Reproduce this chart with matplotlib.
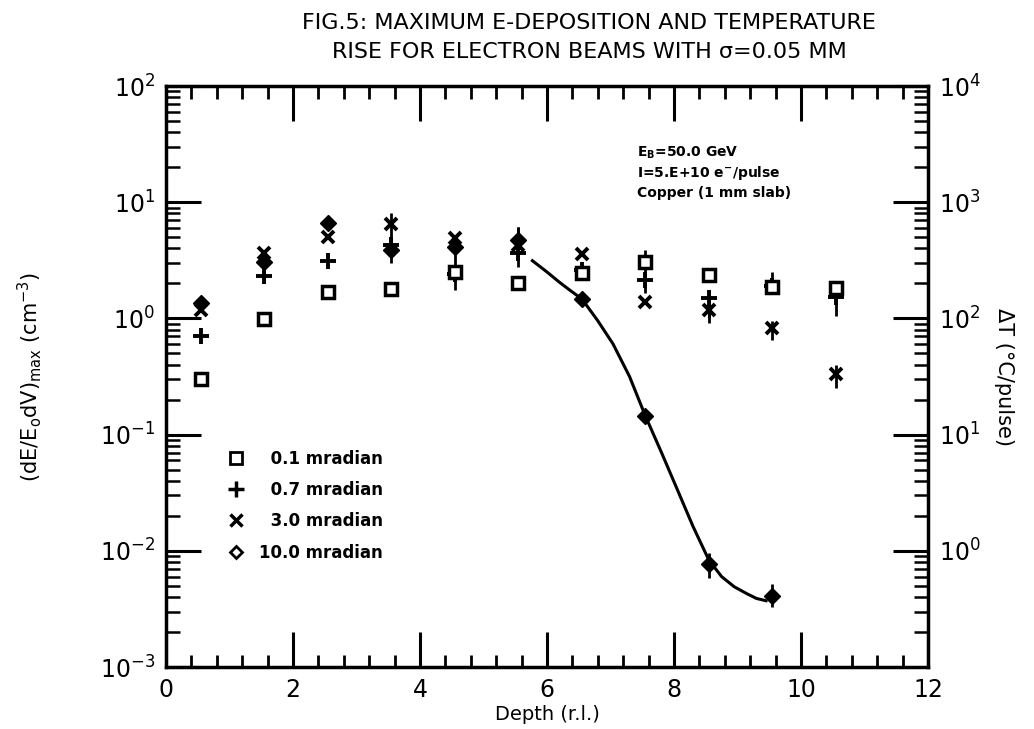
import numpy as np
import matplotlib
matplotlib.use('Agg')
import matplotlib.pyplot as plt
from matplotlib.ticker import LogLocator, MultipleLocator, NullFormatter, FixedLocator
from matplotlib.lines import Line2D

# depth of each slab (r.l.)
depth = [0.55, 1.55, 2.55, 3.55, 4.55, 5.55, 6.55, 7.55, 8.55, 9.55, 10.55]

# 0.1 mradian (squares)
sq_vals = [0.30, 0.99, 1.70, 1.78, 2.52, 2.00, 2.47, 3.08, 2.36, 1.87, 1.82]
# 0.7 mradian (plus) with error bar ends
plus_vals = [0.70, 2.33, 3.14, 4.28, 2.40, 3.63, 2.60, 2.14, 1.49, 1.90, 1.54]
plus_lo = [0.70, 2.10, 3.14, 3.00, 1.75, 2.79, 2.60, 1.64, 0.91, 1.90, 1.04]
plus_hi = [0.70, 2.60, 3.14, 8.10, 4.50, 6.08, 2.60, 3.88, 1.75, 2.52, 1.90]
# 3.0 mradian (x)
x_vals = [1.18, 3.68, 4.99, 6.49, 4.89, 4.30, 3.60, 1.39, 1.18, 0.82, 0.33]
x_lo = [1.18, 3.68, 4.99, 6.49, 4.89, 4.30, 3.60, 1.39, 1.00, 0.65, 0.25]
x_hi = [1.18, 3.68, 4.99, 6.49, 4.89, 4.30, 3.60, 1.39, 1.18, 0.95, 0.40]
# 10.0 mradian (diamonds), no point at the last depth
dia_depth = depth[:10]
dia_vals = [1.36, 3.07, 6.66, 3.88, 4.14, 4.73, 1.47, 0.144, 0.0077, 0.0041]
dia_lo = [1.36, 3.07, 6.66, 3.88, 4.14, 4.73, 1.47, 0.144, 0.0058, 0.0033]
dia_hi = [1.36, 3.07, 6.66, 3.88, 4.14, 6.10, 1.47, 0.144, 0.0095, 0.0052]

# hand drawn curve through the 10 mradian points
curve_x = [5.77, 6.00, 6.20, 6.36, 6.55, 6.80, 7.04, 7.30, 7.55, 7.80, 8.05,
           8.30, 8.55, 8.75, 8.95, 9.15, 9.30, 9.45]
curve_y = [3.14, 2.51, 2.04, 1.75, 1.47, 0.955, 0.603, 0.316, 0.1445, 0.0708,
           0.0339, 0.0162, 0.0083, 0.0060, 0.0049, 0.00427, 0.00389, 0.00372]

legend_labels = ['\u20070.1 mradian', '\u20070.7 mradian', '\u20073.0 mradian', '10.0 mradian']


def errs(vals, lo, hi):
    v = np.array(vals)
    return [v - np.array(lo), np.array(hi) - v]


fig = plt.figure(figsize=(10.34, 7.29), dpi=100)
ax = fig.add_axes([0.1605, 0.085, 0.737, 0.797])

ax.plot(curve_x, curve_y, color='black', lw=2.2)

ax.errorbar(depth, sq_vals, fmt='s', ms=8, mfc='white', mec='black', mew=2.5,
            ecolor='black', elinewidth=2, capsize=0)
ax.errorbar(depth, plus_vals, yerr=errs(plus_vals, plus_lo, plus_hi), fmt='none',
            ecolor='black', elinewidth=2, capsize=0)
ax.plot(depth, plus_vals, '+', ms=11, mew=2.8, color='black')
ax.errorbar(depth, x_vals, yerr=errs(x_vals, x_lo, x_hi), fmt='x', ms=9, mew=2.8,
            color='black', ecolor='black', elinewidth=2, capsize=0)
ax.errorbar(dia_depth, dia_vals, yerr=errs(dia_vals, dia_lo, dia_hi), fmt='D', ms=8,
            color='black', ecolor='black', elinewidth=2, capsize=0)

ax.set_yscale('log')
ax.set_xlim(0, 12)
ax.set_ylim(1e-3, 1e2)

ax.xaxis.set_major_locator(MultipleLocator(2))
ax.xaxis.set_minor_locator(MultipleLocator(0.4))
ax.yaxis.set_major_locator(LogLocator(base=10))
ax.yaxis.set_minor_locator(LogLocator(base=10, subs=np.arange(2, 10)))
ax.yaxis.set_minor_formatter(NullFormatter())
ax.tick_params(which='major', direction='in', length=25, width=2.2, top=True,
               labelsize=17, pad=8)
ax.tick_params(which='minor', direction='in', length=9, width=2, top=True)
ax.tick_params(axis='y', which='minor', length=10, width=1.8)
for s in ax.spines.values():
    s.set_linewidth(2.5)

ax2 = ax.twinx()
ax2.set_yscale('log')
ax2.set_ylim(1e-1, 1e4)
ax2.yaxis.set_major_locator(FixedLocator([1, 10, 100, 1e3, 1e4]))
ax2.yaxis.set_minor_locator(LogLocator(base=10, subs=np.arange(2, 10)))
ax2.yaxis.set_minor_formatter(NullFormatter())
ax2.tick_params(which='major', direction='in', length=25, width=2.2, labelsize=17, pad=8)
ax2.tick_params(which='minor', direction='in', length=10, width=1.8)

ax.set_xlabel('Depth (r.l.)', fontsize=14, labelpad=2)
ax.set_ylabel('(dE/E$_\\mathregular{o}$dV)$_\\mathregular{max}$ (cm$^\\mathregular{-3}$)',
              fontsize=15, labelpad=40)
ax2.set_ylabel('\u0394T (\u00b0C/pulse)', fontsize=15, rotation=-90, labelpad=24)

title_font = dict(ha='center', va='center', fontsize=16,
                  family=['Liberation Sans Narrow', 'DejaVu Sans'])
fig.text(0.57, 0.968, 'FIG.5: MAXIMUM E-DEPOSITION AND TEMPERATURE', **title_font)
fig.text(0.57, 0.928, 'RISE FOR ELECTRON BEAMS WITH \u03c3=0.05 MM', **title_font)

ax.text(0.618, 0.885, 'E$_\\mathregular{B}$=50.0 GeV', transform=ax.transAxes,
        fontsize=10, fontweight='bold', va='center')
ax.text(0.618, 0.851, 'I=5.E+10 e$^\\mathregular{-}$/pulse', transform=ax.transAxes,
        fontsize=10, fontweight='bold', va='center')
ax.text(0.618, 0.816, 'Copper (1 mm slab)', transform=ax.transAxes,
        fontsize=10, fontweight='bold', va='center')

handles = [
    Line2D([], [], ls='none', marker='s', ms=8, mfc='white', mec='black', mew=2),
    Line2D([], [], ls='none', marker='+', ms=11, mew=2.5, color='black'),
    Line2D([], [], ls='none', marker='x', ms=9, mew=2.5, color='black'),
    Line2D([], [], ls='none', marker='D', ms=6, mfc='white', mec='black', mew=2),
]
leg = ax.legend(handles, legend_labels, loc='upper left', bbox_to_anchor=(0.05, 0.40),
                frameon=False, handletextpad=0.4, labelspacing=0.8,
                prop={'weight': 'bold', 'size': 12})

fig.savefig('out.png', dpi=100)
